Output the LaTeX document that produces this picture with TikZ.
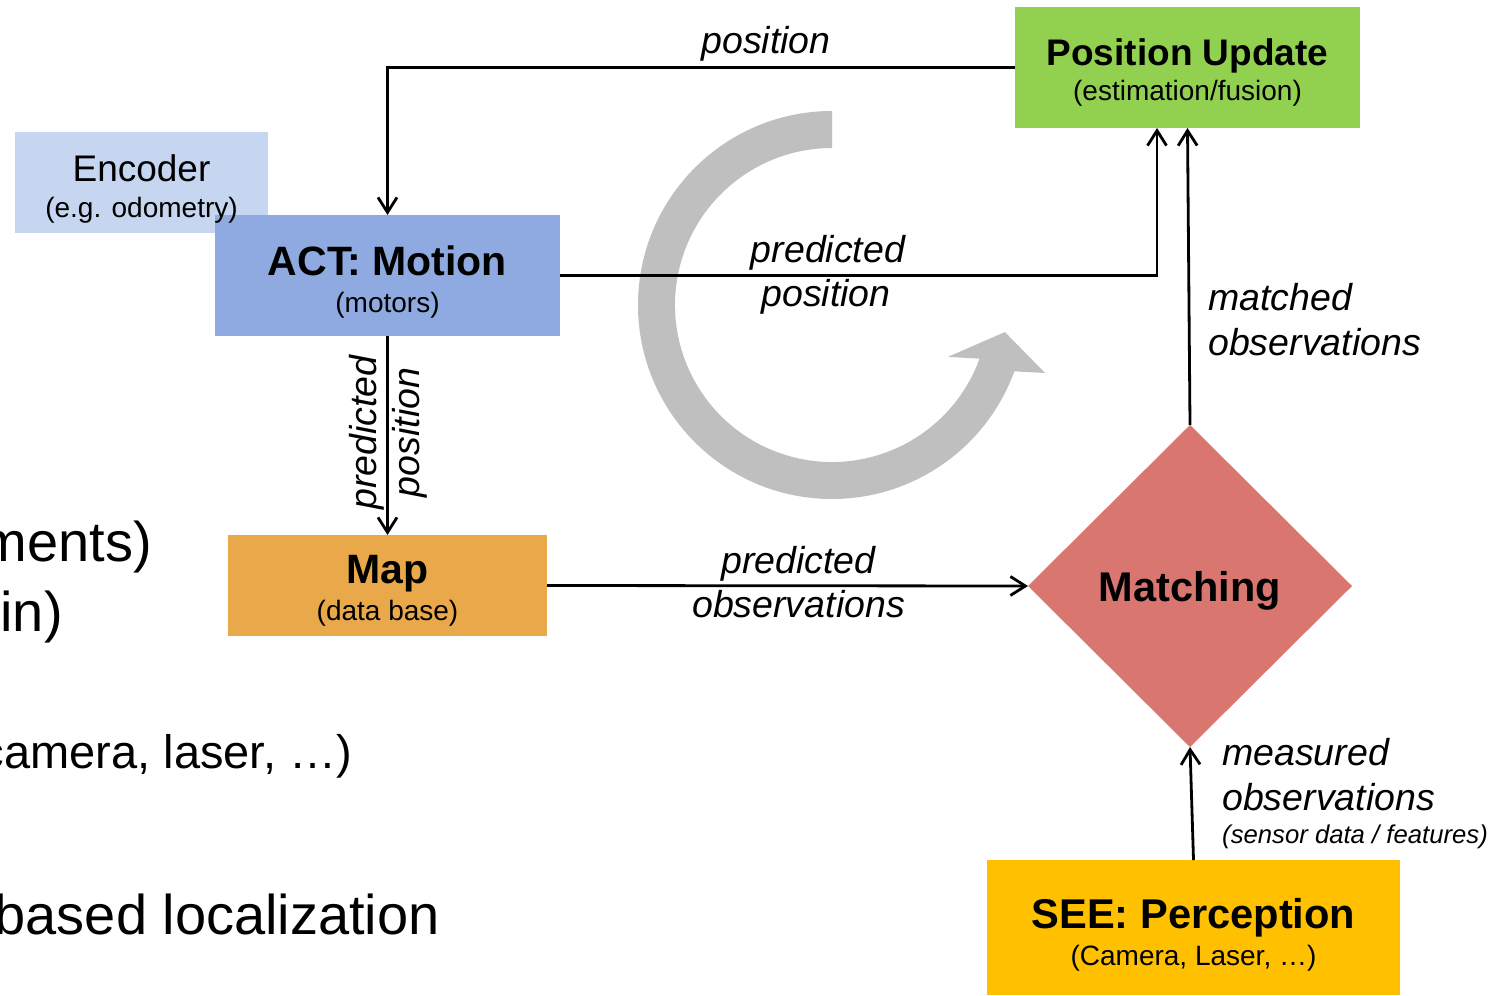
\documentclass[tikz,border=0pt]{standalone}
\usepackage{fontspec}
\setmainfont{Liberation Sans}
\usetikzlibrary{arrows.meta,shapes.geometric}
\pgfdeclarelayer{background}
\pgfsetlayers{background,main}
\definecolor{encc}{RGB}{198,213,240}
\definecolor{actc}{RGB}{142,170,224}
\definecolor{mapc}{RGB}{233,168,74}
\definecolor{puc}{RGB}{146,208,80}
\definecolor{matc}{RGB}{217,118,112}
\definecolor{seec}{RGB}{255,192,0}
\definecolor{loopc}{RGB}{191,191,191}
\begin{document}
\begin{tikzpicture}[x=1pt,y=1pt,
  box/.style={rectangle, inner sep=0pt, outer sep=0pt, align=center, font={\fontsize{28}{37}\selectfont}},
  arr/.style={line width=2.8pt, -{Straight Barb[length=15pt,width=19pt]}},
  lbl/.style={inner sep=0pt, font={\fontsize{37.5}{37.5}\selectfont\itshape}},
  side/.style={inner sep=0pt, anchor=base east}]
\path[use as bounding box] (0,0) rectangle (1495,-995);
\begin{pgfonlayer}{background}
\fill[white] (0,0) rectangle (1495,-995);
\end{pgfonlayer}

% cut-off slide text on the left
\node[side, font={\fontsize{56}{56}\selectfont}] (t1) at (152,-561) {ments)};
\node[side, font={\fontsize{56}{56}\selectfont}] (t2) at (63,-631) {in)};
\node[side, font={\fontsize{47}{47}\selectfont}] (t3) at (352,-768) {camera, laser, …)};
\node[side, font={\fontsize{56}{56}\selectfont}] (t4) at (440,-934) {based localization};

% grey loop arrow
\begin{scope}[shift={(832,-305)}]
\fill[loopc] (90:194pt) arc[start angle=90, end angle=340, radius=194pt]
  -- (342.3:223.6pt) -- (351.1:175pt) -- (335.9:127pt) -- (340:157pt)
  arc[start angle=340, end angle=90, radius=157pt] -- cycle;
\end{scope}

% boxes
\node[box, fill=actc, minimum width=345pt, minimum height=121pt] (act) at (387.5,-275.5)
  {\rule{0pt}{41.9pt}{\fontsize{41}{37}\bfseries ACT: Motion}\\(motors)};
\node[box, minimum width=253pt, minimum height=101pt, font={\fontsize{28}{36}\selectfont}] (enc) at (141.5,-182.5)
  {\rule{0pt}{40.3pt}{\fontsize{37}{36}\selectfont Encoder}\\(e.g. odometry)};
\begin{pgfonlayer}{background}
\fill[encc] (enc.south west) rectangle (enc.north east);
\end{pgfonlayer}
\node[box, fill=mapc, minimum width=319pt, minimum height=101pt] (map) at (387.5,-585.5)
  {\rule{0pt}{37.9pt}{\fontsize{41}{37}\bfseries Map}\\(data base)};
\node[box, fill=puc, minimum width=345pt, minimum height=121pt, font={\fontsize{28}{35}\selectfont}] (pu) at (1187.5,-67.5)
  {\rule{0pt}{35.9pt}{\fontsize{37}{35}\bfseries Position Update}\\(estimation/fusion)};
\node[box, fill=seec, minimum width=413pt, minimum height=135pt, font={\fontsize{28}{37}\selectfont}] (see) at (1193.5,-927.5)
  {\rule{0pt}{43.9pt}{\fontsize{41.6}{37}\bfseries SEE: Perception}\\(Camera, Laser, …)};
\node[diamond, fill=matc, inner sep=0pt, outer sep=0pt, minimum width=324pt, minimum height=322pt,
  font={\fontsize{41.5}{41.5}\selectfont\bfseries}] (match) at (1190,-586) {\rule{0pt}{40pt}Matching};

% connectors
\draw[arr] (pu.west) -| (act.north);
\draw[arr] (act.east) -| ([xshift=-30.5pt]pu.south);
\draw[arr] (act.south) -- (map.north);
\draw[arr] (map.east) -- (match.west);
\draw[arr] (match.north) -- (pu.south);
\draw[arr] (see.north) -- (match.south);

% labels
\node[lbl, anchor=base] (lpos) at (766,-54) {position};
\node[lbl, anchor=base] (lpp1) at (828,-262) {predicted};
\node[lbl, anchor=base] (lpp2) at (826,-306) {position};
\node[lbl, anchor=base, rotate=90] (lvp1) at (376,-432.5) {predicted};
\node[lbl, anchor=base, rotate=90] (lvp2) at (419,-432.5) {position};
\node[lbl, anchor=base] (lpo1) at (798.5,-573) {predicted};
\node[lbl, anchor=base] (lpo2) at (798.5,-617) {observations};
\node[lbl, anchor=base west] (lmo1) at (1208,-310) {matched};
\node[lbl, anchor=base west] (lmo2) at (1208,-355) {observations};
\node[lbl, anchor=base west] (lme1) at (1222,-765) {measured};
\node[lbl, anchor=base west] (lme2) at (1222,-810) {observations};
\node[lbl, anchor=base west, font={\fontsize{25.7}{25.7}\selectfont\itshape}] (lme3) at (1222,-843) {(sensor data / features)};
\end{tikzpicture}
\end{document}
